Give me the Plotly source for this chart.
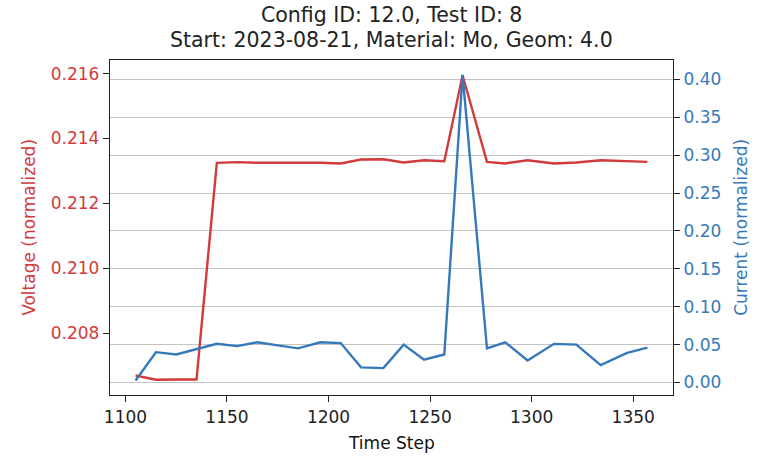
import plotly.graph_objects as go

time_step = [1105, 1115, 1125, 1135, 1145, 1155, 1165, 1175, 1185, 1196, 1206, 1216, 1227,
             1237, 1247, 1257, 1266, 1278, 1287, 1298, 1311, 1322, 1334, 1347, 1357]
voltage = [0.20669, 0.20656, 0.20657, 0.20657, 0.21325, 0.21327, 0.21325, 0.21325, 0.21327,
           0.21325, 0.21323, 0.21335, 0.21336, 0.21326, 0.21333, 0.21330, 0.21595, 0.21328,
           0.21323, 0.21333, 0.21323, 0.21326, 0.21333, 0.21330, 0.21328]
current = [0.0026, 0.040, 0.037, 0.044, 0.051, 0.048, 0.053, 0.049, 0.045, 0.053, 0.052,
           0.020, 0.019, 0.050, 0.030, 0.037, 0.406, 0.045, 0.053, 0.029, 0.051, 0.050,
           0.023, 0.039, 0.046]

title1 = "Config ID: 12.0, Test ID: 8"
title2 = "Start: 2023-08-21, Material: Mo, Geom: 4.0"

RED = "#d23b3b"
BLUE = "#3679ba"
FONT = "DejaVu Sans"

fig = go.Figure()
fig.add_trace(go.Scatter(x=time_step, y=voltage, mode="lines", yaxis="y",
                         line=dict(color=RED, width=2.4), showlegend=False))
fig.add_trace(go.Scatter(x=time_step, y=current, mode="lines", yaxis="y2",
                         line=dict(color=BLUE, width=2.4), showlegend=False))

axis_common = dict(showline=True, linecolor="#222222", linewidth=1.3, ticks="outside",
                   ticklen=6, tickwidth=1.2, tickcolor="#222222", zeroline=False)

fig.update_layout(
    width=759, height=458,
    margin=dict(l=110, r=86, t=60, b=63),
    plot_bgcolor="white", paper_bgcolor="white",
    font=dict(family=FONT, size=17, color="#222222"),
    xaxis=dict(range=[1092.4, 1369.6], tickvals=[1100, 1150, 1200, 1250, 1300, 1350],
               showgrid=False, mirror=True, tickfont=dict(size=17, color="#222222"),
               **axis_common),
    yaxis=dict(range=[0.20609, 0.21642], dtick=0.002, tick0=0.208, tickformat=".3f",
               showgrid=False, tickfont=dict(size=17, color=RED), **axis_common),
    yaxis2=dict(range=[-0.0165, 0.4255], dtick=0.05, tick0=0, tickformat=".2f",
                overlaying="y", side="right", showgrid=True, gridcolor="#c4c4c4",
                gridwidth=1.3, tickfont=dict(size=17, color=BLUE), **axis_common),
)

annos = [
    dict(text=title1, x=0.5, y=1.134, font=dict(size=20.5, color="#222222")),
    dict(text=title2, x=0.5, y=1.059, font=dict(size=20.5, color="#222222")),
    dict(text="Time Step", x=0.5, y=-0.143, font=dict(size=17, color="#111111")),
    dict(text="Voltage (normalized)", x=-0.145, y=0.5, textangle=-90,
         font=dict(size=17, color=RED)),
    dict(text="Current (normalized)", x=1.1196, y=0.5, textangle=-90,
         font=dict(size=17, color=BLUE)),
]
for a in annos:
    fig.add_annotation(xref="paper", yref="paper", xanchor="center", yanchor="middle",
                       showarrow=False, font_family=FONT, **{k: v for k, v in a.items()})

fig.write_html("out.html")
